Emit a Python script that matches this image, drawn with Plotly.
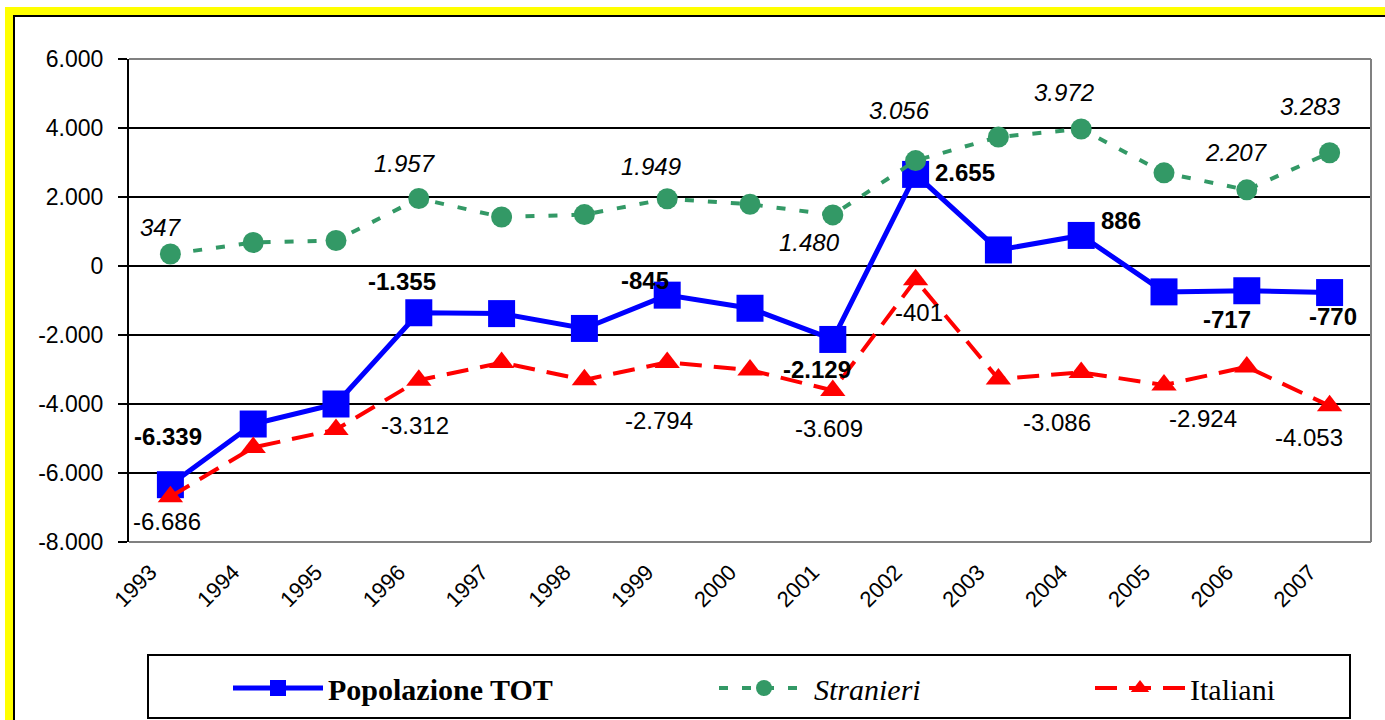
import plotly.graph_objects as go

# ---------------- data ----------------
years = ["1993", "1994", "1995", "1996", "1997", "1998", "1999", "2000",
         "2001", "2002", "2003", "2004", "2005", "2006", "2007"]
pop_tot = [-6339, -4580, -4000, -1355, -1380, -1810, -845, -1225,
           -2129, 2655, 465, 886, -750, -717, -770]
stranieri = [347, 680, 740, 1957, 1420, 1490, 1949, 1790,
             1480, 3056, 3740, 3972, 2700, 2207, 3283]
italiani = [-6686, -5260, -4740, -3312, -2800, -3300, -2794, -3015,
            -3609, -401, -3275, -3086, -3450, -2924, -4053]
labeled_years = ["1993", "1996", "1999", "2001", "2002", "2004", "2006", "2007"]
y_tickvals = [-8000, -6000, -4000, -2000, 0, 2000, 4000, 6000]
y_ticktext = ["-8.000", "-6.000", "-4.000", "-2.000", "0", "2.000", "4.000", "6.000"]
series_names = ["Popolazione TOT", "Stranieri", "Italiani"]

# ---------------- layout helpers ----------------
W, H = 1385, 720
L, R, T, B = 129, 14, 59, 178
PW, PH = W - L - R, H - T - B


def px_x(p):
    return (p - L) / PW


def px_y(p):
    return (H - B - p) / PH


def fmt(v):
    return f"{v:,}".replace(",", ".")


SANS = "Liberation Sans, Arial, sans-serif"
SERIF = "Liberation Serif, Times New Roman, serif"

# label offsets in screen pixels (dx right, dy down)
off_pop = {"1993": (-2, -48), "1996": (-17, -31), "1999": (-22, -15), "2001": (-16, 30),
           "2002": (49, -2), "2004": (40, -15), "2006": (-20, 29), "2007": (3, 24)}
off_str = {"1993": (-9, -27), "1996": (-14, -35), "1999": (-16, -32), "2001": (-23, 28),
           "2002": (-16, -50), "2004": (-17, -36), "2006": (-10, -37), "2007": (-19, -46)}
off_ita = {"1993": (-3, 25), "1996": (-4, 45), "1999": (-8, 58), "2001": (-4, 38),
           "2002": (3, 33), "2004": (-24, 50), "2006": (-44, 52), "2007": (-21, 32)}

fig = go.Figure()

fig.add_trace(go.Scatter(
    x=years, y=pop_tot, name="<b>" + series_names[0] + "</b>", mode="lines+markers",
    line=dict(color="#0000FF", width=5),
    marker=dict(symbol="square", size=27, color="#0000FF"),
    legend="legend", hoverinfo="skip"))
fig.add_trace(go.Scatter(
    x=years, y=stranieri, name="<i>" + series_names[1] + "</i>", mode="lines+markers",
    line=dict(color="#339966", width=4, dash="9px,14px"),
    marker=dict(symbol="circle", size=21, color="#339966"),
    legend="legend2", hoverinfo="skip"))
fig.add_trace(go.Scatter(
    x=years, y=italiani, name=series_names[2], mode="lines+markers",
    line=dict(color="#FF0000", width=4, dash="22px,12px"),
    marker=dict(symbol="triangle-up", size=22, color="#FF0000"),
    legend="legend3", hoverinfo="skip"))

annotations = []
for vals, offs, style in ((pop_tot, off_pop, "b"),
                          (stranieri, off_str, "i"),
                          (italiani, off_ita, "")):
    for i, (yv, v) in enumerate(zip(years, vals)):
        if yv not in labeled_years:
            continue
        dx, dy = offs[yv]
        txt = fmt(v)
        if style:
            txt = "<" + style + ">" + txt + "</" + style + ">"
        annotations.append(dict(
            x=i, y=v, xref="x", yref="y", text=txt, showarrow=False,
            xshift=dx, yshift=-dy, font=dict(family=SANS, size=24, color="black")))

shapes = [
    # yellow frame
    dict(type="rect", xref="paper", yref="paper", layer="below",
         x0=px_x(5), x1=px_x(1400), y0=px_y(730), y1=px_y(7),
         fillcolor="#FFFF00", line=dict(width=0)),
    dict(type="rect", xref="paper", yref="paper", layer="below",
         x0=px_x(14), x1=px_x(1400), y0=px_y(730), y1=px_y(16),
         fillcolor="white", line=dict(color="black", width=2)),
    # plot border (gray) top, right, bottom
    dict(type="line", xref="paper", yref="paper", x0=0, x1=1, y0=1, y1=1,
         line=dict(color="#808080", width=2)),
    dict(type="line", xref="paper", yref="paper", x0=1, x1=1, y0=0, y1=1,
         line=dict(color="#808080", width=2)),
    dict(type="line", xref="paper", yref="paper", x0=0, x1=1, y0=0, y1=0,
         line=dict(color="#808080", width=2)),
    # legend box
    dict(type="rect", xref="paper", yref="paper",
         x0=px_x(148), x1=px_x(1350), y0=px_y(718), y1=px_y(655),
         line=dict(color="black", width=2), fillcolor="rgba(0,0,0,0)"),
]

leg_common = dict(orientation="h", bgcolor="rgba(0,0,0,0)", borderwidth=0,
                  font=dict(family=SERIF, size=30, color="black"),
                  yanchor="middle", y=px_y(688), xanchor="left", itemwidth=90)

fig.update_layout(
    width=W, height=H,
    margin=dict(l=L, r=R, t=T, b=B, autoexpand=False),
    paper_bgcolor="white", plot_bgcolor="white",
    showlegend=True,
    legend=dict(leg_common, x=px_x(228)),
    legend2=dict(leg_common, x=px_x(714)),
    legend3=dict(leg_common, x=px_x(1090)),
    xaxis=dict(type="category", categoryorder="array", categoryarray=years,
               range=[-0.5, 14.5], showline=False, ticks="", showgrid=False,
               zeroline=False, tickangle=-45, ticklabelshift=-20,
               ticklabelstandoff=12, automargin=False,
               tickfont=dict(family=SANS, size=22, color="black")),
    xaxis2=dict(overlaying="x", anchor="free", position=8000 / 14000,
                range=[-0.5, 14.5], tickmode="array",
                tickvals=[i - 0.5 for i in range(16)],
                showticklabels=False, showline=True, linecolor="black", linewidth=2,
                ticks="outside", ticklen=9, tickwidth=2, tickcolor="black",
                showgrid=False, zeroline=False),
    yaxis=dict(range=[-8000, 6000], tickmode="array", tickvals=y_tickvals,
               ticktext=y_ticktext, showgrid=True, gridcolor="black", gridwidth=2,
               zeroline=False, showline=True, linecolor="black", linewidth=2,
               ticks="outside", ticklen=9, tickwidth=2, tickcolor="black",
               ticklabelstandoff=10, automargin=False,
               tickfont=dict(family=SANS, size=23, color="black")),
    annotations=annotations,
    shapes=shapes,
)

fig.write_html("out.html", config={"displayModeBar": False},
               post_script="document.body.style.margin='0px';")
